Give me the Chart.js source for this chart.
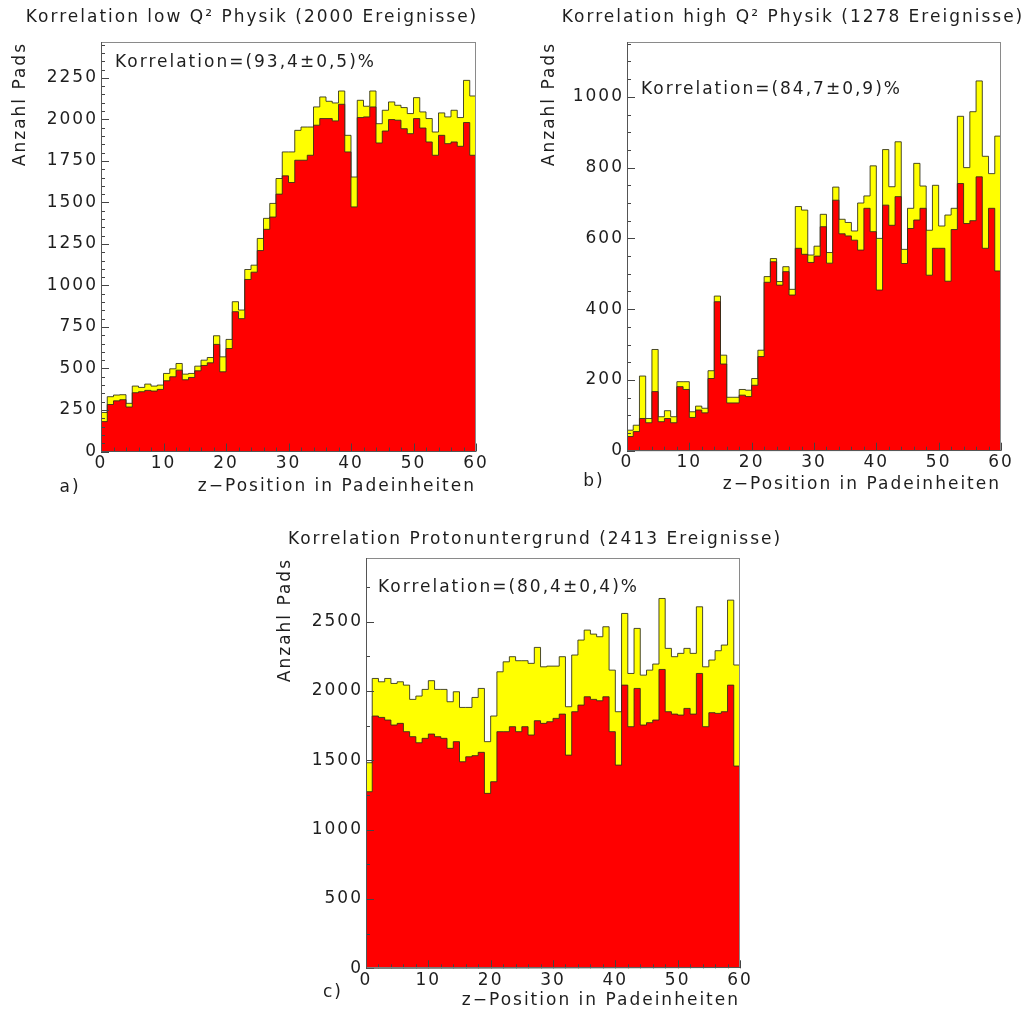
<!DOCTYPE html>
<html>
<head>
<meta charset="utf-8">
<script src="https://cdn.jsdelivr.net/npm/chart.js@4.4.1/dist/chart.umd.min.js"></script>
<style>
  body { margin: 0; background: #fff; }
  #page { position: relative; width: 1024px; height: 1012px; }
  canvas { position: absolute; }
</style>
</head>
<body>
<div id="page">
  <canvas id="lowQ2" width="510" height="505" style="left:0;top:0"></canvas>
  <canvas id="highQ2" width="494" height="505" style="left:530px;top:0"></canvas>
  <canvas id="proton" width="550" height="500" style="left:262px;top:512px"></canvas>
</div>
<script>
"use strict";

// z-axis (pad units), 60 bins of width 1
const zTicks = [0, 10, 20, 30, 40, 50, 60];

// low Q^2 physics: all pads / correlated pads per bin
const lowQ2Total = [235, 330, 340, 342, 290, 394, 386, 406, 394, 400,
    470, 498, 530, 466, 470, 514, 550, 566, 697, 570,
    675, 902, 852, 1096, 1122, 1283, 1404, 1494, 1644, 1804,
    1804, 1934, 1954, 1954, 2075, 2135, 2109, 2099, 2171, 1904,
    1653, 2115, 2079, 2171, 1974, 2055, 2105, 2085, 2071, 2035,
    2131, 2045, 2005, 1924, 2039, 2015, 2055, 2011, 2235, 2141];
const lowQ2Correlated = [180, 283, 305, 312, 268, 354, 360, 368, 364, 374,
    426, 450, 490, 432, 446, 486, 518, 534, 645, 480,
    620, 842, 800, 1036, 1080, 1210, 1338, 1412, 1550, 1660,
    1620, 1754, 1754, 1784, 1965, 2005, 2005, 1991, 2091, 1804,
    1473, 2011, 2015, 2075, 1858, 1930, 1999, 1995, 1944, 1914,
    2005, 1948, 1864, 1784, 1904, 1854, 1864, 1838, 1981, 1784];
const lowQ2Ticks = [0, 250, 500, 750, 1000, 1250, 1500, 1750, 2000, 2250];

// high Q^2 physics
const highQ2Total = [58, 72, 211, 91, 286, 96, 113, 96, 195, 195,
    110, 126, 120, 226, 437, 270, 151, 151, 173, 171,
    204, 284, 492, 543, 478, 520, 456, 690, 680, 553,
    578, 668, 560, 745, 654, 645, 621, 700, 720, 805,
    600, 851, 746, 873, 569, 685, 812, 748, 623, 750,
    635, 666, 685, 945, 800, 958, 1045, 832, 783, 889];
const highQ2Correlated = [40, 54, 91, 79, 167, 82, 91, 79, 181, 173,
    94, 115, 107, 204, 421, 245, 135, 135, 157, 153,
    185, 266, 476, 534, 468, 506, 440, 572, 555, 532,
    550, 633, 530, 708, 613, 607, 595, 567, 685, 619,
    454, 694, 637, 718, 529, 628, 652, 685, 496, 572,
    572, 479, 625, 755, 642, 650, 774, 572, 685, 508];
const highQ2Ticks = [0, 200, 400, 600, 800, 1000];

// proton background
const protonTotal = [1483, 2091, 2067, 2091, 2055, 2067, 2043, 1940, 1964, 2012,
    2075, 2012, 2012, 1923, 1995, 1882, 1882, 1954, 2019, 1635,
    1820, 2139, 2211, 2248, 2219, 2219, 2200, 2315, 2175, 2180,
    2180, 2248, 1887, 2260, 2368, 2440, 2411, 2392, 2464, 2151,
    1851, 2560, 2127, 2452, 2115, 2151, 2195, 2668, 2308, 2248,
    2272, 2308, 2272, 2608, 2175, 2224, 2291, 2332, 2656, 2188];
const protonCorrelated = [1274, 1820, 1810, 1791, 1755, 1767, 1707, 1671, 1627, 1659,
    1690, 1671, 1659, 1587, 1635, 1490, 1526, 1534, 1558, 1262,
    1346, 1707, 1707, 1743, 1707, 1743, 1683, 1786, 1767, 1779,
    1803, 1834, 1538, 1851, 1899, 1959, 1940, 1930, 1959, 1707,
    1466, 2043, 1743, 2019, 1755, 1772, 1791, 2156, 1851, 1834,
    1827, 1875, 1834, 2127, 1743, 1844, 1839, 1851, 2043, 1459];
const protonTicks = [0, 500, 1000, 1500, 2000, 2500];

const FONT = "'DejaVu Sans', sans-serif";
const TEXT_COLOR = '#1e1e1e';
const OUTLINE = 'rgba(45, 45, 25, 0.85)';

Chart.defaults.font.family = FONT;
Chart.defaults.font.size = 17;
Chart.defaults.color = TEXT_COLOR;

/**
 * Turns bin contents into step points: one point at each left bin edge
 * plus a closing point at the right edge of the last bin.
 */
function histogramPoints(values) {
    const pts = values.map((v, i) => ({ x: i, y: v }));
    pts.push({ x: values.length, y: values[values.length - 1] });
    return pts;
}

// frame, inward tick marks and the free text of each pad
const rootFrame = {
    id: 'rootFrame',
    beforeDraw(chart) {
        // wide, loosely spaced lettering for every label on the pad
        chart.ctx.letterSpacing = '2px';
    },
    afterDatasetsDraw(chart, args, opts) {
        const { ctx, chartArea: a, scales: { x, y } } = chart;
        ctx.save();
        ctx.lineWidth = 1;
        ctx.strokeStyle = '#444';
        ctx.beginPath();
        for (let v = 0; v <= y.max; v += opts.yMinor) {
            const py = Math.round(y.getPixelForValue(v)) + 0.5;
            const len = v % opts.yMajor === 0 ? 8 : 4;
            ctx.moveTo(a.left, py);
            ctx.lineTo(a.left + len, py);
        }
        for (let v = 0; v <= x.max; v += 2) {
            const px = Math.round(x.getPixelForValue(v)) + 0.5;
            const len = v % 10 === 0 ? 8 : 4;
            ctx.moveTo(px, a.bottom);
            ctx.lineTo(px, a.bottom - len);
        }
        ctx.stroke();

        ctx.strokeStyle = '#8a8a8a';
        ctx.strokeRect(Math.round(a.left) + 0.5, Math.round(a.top) + 0.5,
            Math.round(a.right - a.left) - 1, Math.round(a.bottom - a.top) - 1);
        ctx.strokeStyle = '#555';
        ctx.beginPath();
        ctx.moveTo(Math.round(a.left) + 0.5, a.top);
        ctx.lineTo(Math.round(a.left) + 0.5, a.bottom);
        ctx.lineTo(a.right, Math.round(a.bottom) - 0.5);
        ctx.stroke();
        ctx.restore();
    },
    afterDraw(chart, args, opts) {
        const ctx = chart.ctx;
        ctx.save();
        ctx.fillStyle = TEXT_COLOR;
        ctx.font = '17px ' + FONT;
        ctx.textBaseline = 'middle';
        ctx.textAlign = 'center';
        ctx.fillText(opts.title.text, opts.title.x, opts.title.y);
        ctx.fillText(opts.letter.text, opts.letter.x, opts.letter.y);
        ctx.textAlign = 'left';
        ctx.fillText(opts.note.text, opts.note.x, opts.note.y);
        ctx.restore();
    }
};

function drawPanel(canvasId, p) {
    return new Chart(document.getElementById(canvasId), {
        type: 'line',
        data: {
            datasets: [{
                label: 'korrelierte Pads',
                data: histogramPoints(p.correlated),
                stepped: true,
                fill: 'origin',
                backgroundColor: '#ff0000',
                borderColor: OUTLINE,
                borderWidth: 1,
                pointRadius: 0
            }, {
                label: 'alle Pads',
                data: histogramPoints(p.total),
                stepped: true,
                fill: 'origin',
                backgroundColor: '#ffff00',
                borderColor: OUTLINE,
                borderWidth: 1,
                pointRadius: 0
            }]
        },
        options: {
            responsive: false,
            animation: false,
            layout: { padding: p.padding },
            scales: {
                x: {
                    type: 'linear',
                    min: 0,
                    max: 60,
                    afterBuildTicks: s => { s.ticks = zTicks.map(v => ({ value: v })); },
                    afterFit: s => { s.height = p.xAxisHeight; },
                    grid: { display: false, drawTicks: false },
                    border: { display: false },
                    ticks: { padding: 2, autoSkip: false, maxRotation: 0, callback: v => String(v) },
                    title: {
                        display: true,
                        text: 'z\u2212Position in Padeinheiten',
                        align: 'end',
                        padding: { top: 0, bottom: p.xTitlePad }
                    }
                },
                y: {
                    type: 'linear',
                    min: 0,
                    max: p.yMax,
                    afterBuildTicks: s => { s.ticks = p.yTicks.map(v => ({ value: v })); },
                    afterFit: s => { s.width = p.yAxisWidth; },
                    grid: { display: false, drawTicks: false },
                    border: { display: false },
                    ticks: { padding: 3, autoSkip: false, callback: v => String(v) },
                    title: {
                        display: true,
                        text: 'Anzahl Pads',
                        align: 'end',
                        padding: { top: p.yTitlePad, bottom: 0 }
                    }
                }
            },
            plugins: {
                legend: { display: false },
                tooltip: { enabled: false },
                rootFrame: {
                    yMajor: p.yTicks[1],
                    yMinor: p.yMinor,
                    title: p.title,
                    note: p.note,
                    letter: p.letter
                }
            }
        },
        plugins: [rootFrame]
    });
}

drawPanel('lowQ2', {
    total: lowQ2Total,
    correlated: lowQ2Correlated,
    yMax: 2466,
    yTicks: lowQ2Ticks,
    yMinor: 50,
    padding: { top: 42, right: 34, left: 0, bottom: 0 },
    yAxisWidth: 101,
    xAxisHeight: 53.5,
    xTitlePad: 8,
    yTitlePad: 10,
    title: { text: 'Korrelation low Q\u00b2 Physik (2000 Ereignisse)', x: 252, y: 18 },
    note: { text: 'Korrelation=(93,4\u00b10,5)%', x: 115, y: 63 },
    letter: { text: 'a)', x: 70, y: 488 }
});

drawPanel('highQ2', {
    total: highQ2Total,
    correlated: highQ2Correlated,
    yMax: 1155,
    yTicks: highQ2Ticks,
    yMinor: 50,
    padding: { top: 42, right: 23, left: 0, bottom: 0 },
    yAxisWidth: 97,
    xAxisHeight: 54.3,
    xTitlePad: 10,
    yTitlePad: 9,
    title: { text: 'Korrelation high Q\u00b2 Physik (1278 Ereignisse)', x: 263, y: 18 },
    note: { text: 'Korrelation=(84,7\u00b10,9)%', x: 111, y: 90 },
    letter: { text: 'b)', x: 64, y: 482 }
});

drawPanel('proton', {
    total: protonTotal,
    correlated: protonCorrelated,
    yMax: 2960,
    yTicks: protonTicks,
    yMinor: 250,
    padding: { top: 46, right: 72, left: 0, bottom: 0 },
    yAxisWidth: 104,
    xAxisHeight: 43.7,
    xTitlePad: 1,
    yTitlePad: 13,
    title: { text: 'Korrelation Protonuntergrund (2413 Ereignisse)', x: 273, y: 28 },
    note: { text: 'Korrelation=(80,4\u00b10,4)%', x: 116, y: 76 },
    letter: { text: 'c)', x: 71, y: 481 }
});
</script>
</body>
</html>
